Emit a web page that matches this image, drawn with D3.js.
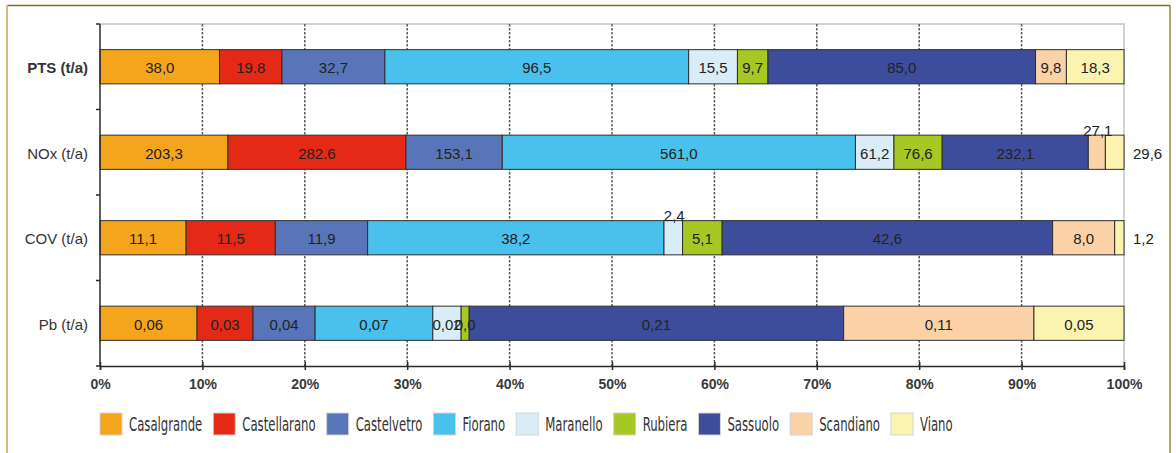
<!DOCTYPE html>
<html>
<head>
<meta charset="utf-8">
<script src="https://cdn.jsdelivr.net/npm/d3@7/dist/d3.min.js"></script>
<style>
    body { margin: 0; background: #fff; }
    svg { display: block; }
</style>
</head>
<body>
<div id="chart"></div>
<script>
const categories = ['PTS (t/a)', 'NOx (t/a)', 'COV (t/a)', 'Pb (t/a)'];
const towns = ['Casalgrande', 'Castellarano', 'Castelvetro', 'Fiorano', 'Maranello', 'Rubiera', 'Sassuolo', 'Scandiano', 'Viano'];
const townColors = ['#f5a51b', '#e42a17', '#5875b9', '#49c1ec', '#d9edf8', '#a5c824', '#3e4c9c', '#fbd2a8', '#fbf4b1'];

const ptsValues = [38.0, 19.8, 32.7, 96.5, 15.5, 9.7, 85.0, 9.8, 18.3];
const noxValues = [203.3, 282.6, 153.1, 561.0, 61.2, 76.6, 232.1, 27.1, 29.6];
const covValues = [11.1, 11.5, 11.9, 38.2, 2.4, 5.1, 42.6, 8.0, 1.2];
const pbValues = [0.0555, 0.032, 0.0355, 0.0673, 0.0162, 0.0046, 0.2141, 0.1088, 0.0515];

const ptsLabels = ['38,0', '19.8', '32,7', '96,5', '15,5', '9,7', '85,0', '9,8', '18,3'];
const noxLabels = ['203,3', '282.6', '153,1', '561,0', '61,2', '76,6', '232,1', '27,1', '29,6'];
const covLabels = ['11,1', '11,5', '11,9', '38,2', '2,4', '5,1', '42,6', '8,0', '1,2'];
const pbLabels = ['0,06', '0,03', '0,04', '0,07', '0,02', '0,0', '0,21', '0,11', '0,05'];

const xTicks = [0, 0.1, 0.2, 0.3, 0.4, 0.5, 0.6, 0.7, 0.8, 0.9, 1];

// labels the original puts outside their (thin) segment
const outsideLabels = {
    'NOx (t/a)|Scandiano': 'above',
    'NOx (t/a)|Viano': 'right',
    'COV (t/a)|Maranello': 'above',
    'COV (t/a)|Viano': 'right'
};

const seriesValues = [ptsValues, noxValues, covValues, pbValues];
const seriesLabels = [ptsLabels, noxLabels, covLabels, pbLabels];

const width = 1176;
const height = 453;
const margin = { top: 24, right: 52, left: 100 };
const plotBottom = 366;

const rows = categories.map((category, i) => {
    const row = { category };
    towns.forEach((town, j) => { row[town] = seriesValues[i][j]; });
    return row;
});

const stacked = d3.stack()
    .keys(towns)
    .offset(d3.stackOffsetExpand)(rows);

const svg = d3.select('#chart')
    .append('svg')
    .attr('width', width)
    .attr('height', height)
    .attr('viewBox', `0 0 ${width} ${height}`);

// outer frame
svg.append('line').attr('x1', 7).attr('x2', 1170).attr('y1', 5.5).attr('y2', 5.5)
    .attr('stroke', '#7f7020').attr('stroke-width', 1.5);
svg.append('line').attr('x1', 7).attr('x2', 7).attr('y1', 5).attr('y2', height)
    .attr('stroke', '#cdbf7c').attr('stroke-width', 2);
svg.append('line').attr('x1', 1170).attr('x2', 1170).attr('y1', 5).attr('y2', height)
    .attr('stroke', '#9a8a30').attr('stroke-width', 1.5);

const x = d3.scaleLinear()
    .domain([0, 1])
    .range([margin.left, width - margin.right]);

const y = d3.scaleBand()
    .domain(categories)
    .range([margin.top, plotBottom])
    .paddingInner(0.6)
    .paddingOuter(0.3);

// plot border (top and right)
svg.append('path')
    .attr('d', `M${x(0)},${margin.top}H${x(1)}V${plotBottom}`)
    .attr('fill', 'none')
    .attr('stroke', '#c4c4c4')
    .attr('stroke-width', 1.5);

// dashed grid
svg.append('g')
    .selectAll('line')
    .data(xTicks.slice(1, -1))
    .join('line')
    .attr('x1', d => x(d))
    .attr('x2', d => x(d))
    .attr('y1', margin.top)
    .attr('y2', plotBottom)
    .attr('stroke', '#5a5a5a')
    .attr('stroke-width', 1.5)
    .attr('stroke-dasharray', '2.5,1.5');

// bars
const layers = svg.append('g')
    .selectAll('g')
    .data(stacked)
    .join('g')
    .attr('fill', (d, i) => townColors[i]);

layers.selectAll('rect')
    .data(d => d.map(seg => ({ seg, town: d.key })))
    .join('rect')
    .attr('x', d => x(d.seg[0]))
    .attr('y', d => y(d.seg.data.category))
    .attr('width', d => x(d.seg[1]) - x(d.seg[0]))
    .attr('height', y.bandwidth())
    .attr('stroke', '#2e2e2e')
    .attr('stroke-width', 1);

// value labels
const labelData = stacked.flatMap((layer, j) => layer.map((seg, i) => ({
    seg,
    town: layer.key,
    category: categories[i],
    text: seriesLabels[i][j]
})));

svg.append('g')
    .selectAll('text')
    .data(labelData)
    .join('text')
    .attr('font-family', 'Arial, "Liberation Sans", sans-serif')
    .attr('font-size', 15)
    .attr('fill', '#222')
    .attr('dominant-baseline', 'central')
    .each(function (d) {
        const place = outsideLabels[`${d.category}|${d.town}`];
        const mid = (x(d.seg[0]) + x(d.seg[1])) / 2;
        const cy = y(d.category) + y.bandwidth() / 2;
        const t = d3.select(this);
        if (place === 'above') {
            t.attr('x', mid + 1).attr('y', y(d.category) - 5).attr('text-anchor', 'middle');
        } else if (place === 'right') {
            t.attr('x', x(1) + 9).attr('y', cy + 1).attr('text-anchor', 'start');
        } else {
            t.attr('x', mid).attr('y', cy + 1).attr('text-anchor', 'middle');
        }
    })
    .text(d => d.text);

// category axis
svg.append('line')
    .attr('x1', x(0)).attr('x2', x(0))
    .attr('y1', margin.top).attr('y2', plotBottom)
    .attr('stroke', '#2a2a2a').attr('stroke-width', 1.5);

const boundaries = d3.range(categories.length + 1).map(i => margin.top + i * y.step());
svg.append('g')
    .selectAll('line')
    .data(boundaries)
    .join('line')
    .attr('x1', x(0) - 4).attr('x2', x(0))
    .attr('y1', d => d).attr('y2', d => d)
    .attr('stroke', '#2a2a2a').attr('stroke-width', 1.5);

svg.append('g')
    .selectAll('text')
    .data(categories)
    .join('text')
    .attr('x', x(0) - 12)
    .attr('y', d => y(d) + y.bandwidth() / 2 + 1)
    .attr('text-anchor', 'end')
    .attr('dominant-baseline', 'central')
    .attr('font-family', 'Arial, "Liberation Sans", sans-serif')
    .attr('font-size', 15)
    .attr('font-weight', (d, i) => i === 0 ? 'bold' : 'normal')
    .attr('fill', '#333')
    .text(d => d);

// percent axis
const xAxis = svg.append('g')
    .attr('transform', `translate(0,${plotBottom})`)
    .call(d3.axisBottom(x).tickValues(xTicks).tickFormat(d3.format('.0%')).tickSize(4).tickPadding(9));

xAxis.select('.domain').attr('stroke', '#2a2a2a').attr('stroke-width', 1.5);
xAxis.selectAll('.tick line')
    .attr('y1', -4)
    .attr('stroke', '#2a2a2a')
    .attr('stroke-width', 1.5);
xAxis.selectAll('.tick text')
    .attr('font-family', 'Arial, "Liberation Sans", sans-serif')
    .attr('font-size', 14)
    .attr('font-weight', 'bold')
    .attr('fill', '#3a3a3a');

// legend
const legend = svg.append('g')
    .attr('transform', `translate(${x(0)},413)`);

const legendScale = 0.65;
let cursor = 0;
towns.forEach((town, i) => {
    const item = legend.append('g')
        .attr('transform', `translate(${cursor},0)`);

    item.append('rect')
        .attr('width', 22)
        .attr('height', 22)
        .attr('fill', townColors[i])
        .attr('stroke', '#d4d4d4')
        .attr('stroke-width', 1);

    const label = item.append('text')
        .attr('transform', `translate(29,18) scale(${legendScale},1)`)
        .attr('font-family', '"Liberation Sans Narrow", "DejaVu Sans Condensed", sans-serif')
        .attr('font-size', 20)
        .attr('fill', '#333')
        .text(town);

    cursor += 29 + label.node().getComputedTextLength() * legendScale + 11;
});
</script>
</body>
</html>
